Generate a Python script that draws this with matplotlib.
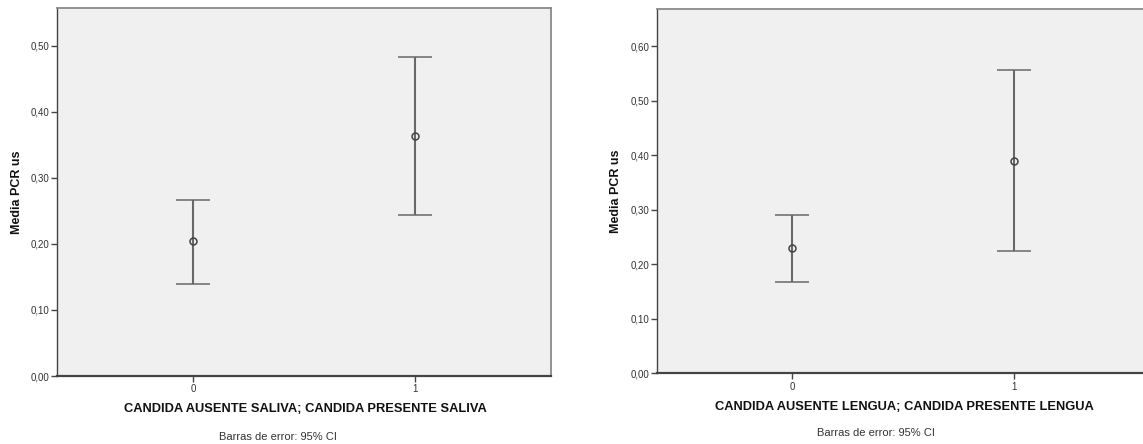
import matplotlib
matplotlib.use("Agg")
import matplotlib.pyplot as plt
from matplotlib.ticker import FuncFormatter

plt.rcParams['font.family'] = ['Liberation Sans', 'DejaVu Sans']

categories = [0, 1]
saliva_mean = [0.204, 0.364]
saliva_low = [0.140, 0.244]
saliva_high = [0.267, 0.483]
lengua_mean = [0.229, 0.390]
lengua_low = [0.168, 0.224]
lengua_high = [0.290, 0.556]

xlabel_saliva = "CANDIDA AUSENTE SALIVA; CANDIDA PRESENTE SALIVA"
xlabel_lengua = "CANDIDA AUSENTE LENGUA; CANDIDA PRESENTE LENGUA"
ylabel = "Media PCR us"
footnote = "Barras de error: 95% CI"
yticks_saliva = [0.0, 0.1, 0.2, 0.3, 0.4, 0.5]
yticks_lengua = [0.0, 0.1, 0.2, 0.3, 0.4, 0.5, 0.6]

W, H = 1143, 444
fig = plt.figure(figsize=(W / 100, H / 100), dpi=100)

def px(x0, y0, x1, y1):
    return [x0 / W, 1 - y1 / H, (x1 - x0) / W, (y1 - y0) / H]

fmt = FuncFormatter(lambda v, p: f"{v:.2f}".replace(".", ","))

def panel(rect, means, lows, highs, yticks, ytop, xlab, xlab_x, ylab_x, xlab_y, foot_x, foot_y):
    ax = fig.add_axes(rect)
    ax.set_facecolor("#f0f0f0")
    yerr = [[m - l for m, l in zip(means, lows)], [h - m for m, h in zip(means, highs)]]
    ax.errorbar(categories, means, yerr=yerr, fmt='o', color="#5a5a5a", ecolor="#686868",
                elinewidth=1.5, capsize=12, capthick=1.5, markersize=5,
                markerfacecolor="none", markeredgecolor="#444444", markeredgewidth=1.1)
    ax.set_xlim(-0.613, 1.613)
    ax.set_ylim(0, ytop)
    ax.set_xticks(categories)
    ax.set_xticklabels([str(c) for c in categories])
    ax.set_yticks(yticks)
    ax.yaxis.set_major_formatter(fmt)
    ax.tick_params(axis='both', labelsize=7, colors="#333333", length=4, width=1, pad=1.5)
    ax.tick_params(axis='both', color="#444444")
    ax.tick_params(axis='x', pad=2)
    for s in ['top', 'right']:
        ax.spines[s].set_color("#8a8a8a")
        ax.spines[s].set_linewidth(1.3)
    for s in ['left', 'bottom']:
        ax.spines[s].set_color("#444444")
    ax.spines['left'].set_linewidth(1.0)
    ax.spines['bottom'].set_linewidth(1.6)
    ax.set_ylabel(ylabel, fontsize=9, fontweight='bold', color="#111111")
    ax.yaxis.set_label_coords((ylab_x / W - rect[0]) / rect[2], 0.5)
    fig.text(xlab_x / W, 1 - xlab_y / H, xlab, fontsize=9.25, fontweight='bold',
             ha='center', va='center', color="#111111")
    fig.text(foot_x / W, 1 - foot_y / H, footnote, fontsize=8, ha='center', va='center',
             color="#333333")
    return ax

panel(px(57, 8, 551, 376), saliva_mean, saliva_low, saliva_high, yticks_saliva, 0.557,
      xlabel_saliva, 305, 23, 409, 278, 437)
panel(px(657, 9, 1149, 373.3), lengua_mean, lengua_low, lengua_high, yticks_lengua, 0.668,
      xlabel_lengua, 904, 622, 407, 876, 433)

fig.savefig("out.png", dpi=100)
